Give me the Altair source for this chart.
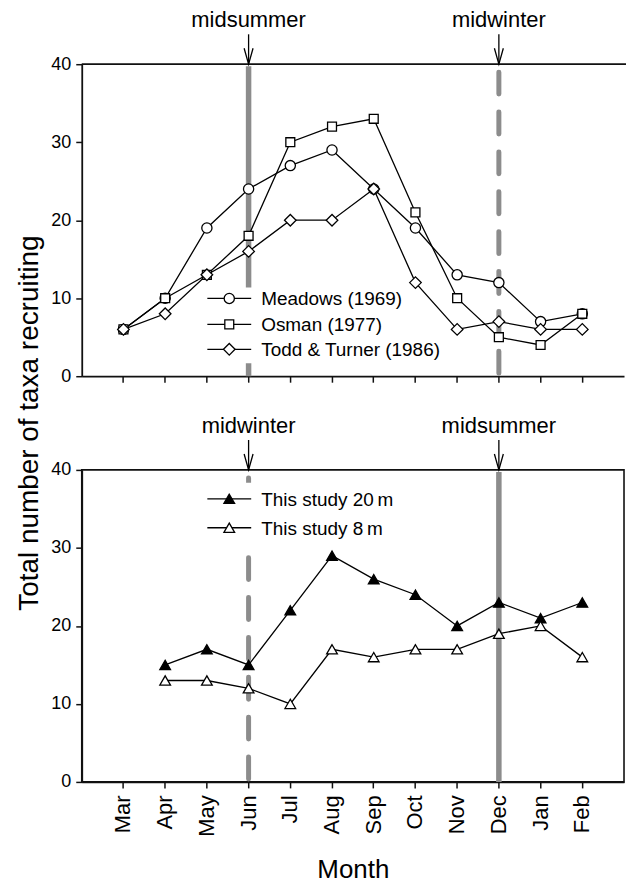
import altair as alt
import pandas as pd

# ---- data -------------------------------------------------------------
months = ["Mar", "Apr", "May", "Jun", "Jul", "Aug", "Sep", "Oct", "Nov", "Dec", "Jan", "Feb"]

# published recruitment records (northern hemisphere)
meadows_1969 = [6, 10, 19, 24, 27, 29, 24, 19, 13, 12, 7, 8]
osman_1977 = [6, 10, 13, 18, 30, 32, 33, 21, 10, 5, 4, 8]
todd_turner_1986 = [6, 8, 13, 16, 20, 20, 24, 12, 6, 7, 6, 6]

# this study (southern hemisphere), no March sample
study_20m = [None, 15, 17, 15, 22, 29, 26, 24, 20, 23, 21, 23]
study_8m = [None, 13, 13, 12, 10, 17, 16, 17, 17, 19, 20, 16]

hist_names = ["Meadows (1969)", "Osman (1977)", "Todd & Turner (1986)"]
hist_shapes = ["circle", "square", "diamond"]
hist_sizes = [105, 80, 135]

study_names = ["This study 20\u2009m", "This study 8\u2009m"]
study_fills = ["black", "white"]

# season markers per panel: (month, label, dashed)
top_seasons = [("Jun", "midsummer", False), ("Dec", "midwinter", True)]
bottom_seasons = [("Jun", "midwinter", True), ("Dec", "midsummer", False)]

y_title = "Total number of taxa recruiting"
x_title = "Month"

# ---- styling ----------------------------------------------------------
FONT = "Liberation Sans"
W, H = 544, 313
GREY = "#8c8c8c"
LW = 1.3


def long_frame(names, series):
    rows = []
    for name, vals in zip(names, series):
        for m, v in zip(months, vals):
            if v is not None:
                rows.append({"month": m, "value": v, "series": name})
    return pd.DataFrame(rows)


one = pd.DataFrame({"k": [0]})


def x_enc(show_labels):
    axis = alt.Axis(
        labels=show_labels, title=x_title if show_labels else None,
        labelAngle=-90, labelFontSize=22, labelPadding=7,
        titleFontSize=26, titleFontWeight="normal", titlePadding=20,
        tickSize=6, grid=False,
    )
    return alt.X("month:N", sort=months,
                 scale=alt.Scale(domain=months, padding=1), axis=axis)


y_enc = alt.Y("value:Q", scale=alt.Scale(domain=[0, 40], nice=False),
              axis=alt.Axis(values=[0, 10, 20, 30, 40], title=None,
                            labelFontSize=18, labelPadding=5, tickSize=6, grid=False))


def season_layers(seasons):
    layers = []
    for month, label, dashed in seasons:
        if dashed:
            rule = alt.Chart(one).mark_rule(color=GREY, strokeWidth=5, strokeDash=[22, 18],
                                            strokeCap="round", strokeDashOffset=34)
        else:
            rule = alt.Chart(one).mark_rule(color=GREY, strokeWidth=5.5, strokeCap="butt")
        layers.append(rule.encode(x=alt.datum(month), y=alt.value(2), y2=alt.value(H)))
    return layers


def annotation_layers(seasons):
    layers = []
    for month, label, dashed in seasons:
        layers.append(alt.Chart(one).mark_text(text=label, fontSize=22, baseline="alphabetic",
                                               color="black")
                      .encode(x=alt.datum(month), y=alt.value(-37)))
        layers.append(alt.Chart(one).mark_rule(color="black", strokeWidth=LW)
                      .encode(x=alt.datum(month), y=alt.value(-30), y2=alt.value(-1)))
        layers.append(alt.Chart(one).mark_point(shape="M-0.56,-1L0,1L0.56,-1", size=256,
                                                filled=False, color="black", strokeWidth=LW,
                                                opacity=1)
                      .encode(x=alt.datum(month), y=alt.value(-8)))
    return layers


def legend_layers(entries, rows_y, box):
    x0, x1, y0, y1 = box
    layers = [alt.Chart(one).mark_rect(color="white")
              .encode(x=alt.value(x0), x2=alt.value(x1), y=alt.value(y0), y2=alt.value(y1))]
    for (label, shape, size, fill), ry in zip(entries, rows_y):
        layers.append(alt.Chart(one).mark_rule(color="black", strokeWidth=LW)
                      .encode(x=alt.value(126), x2=alt.value(170), y=alt.value(ry)))
        layers.append(alt.Chart(one).mark_point(shape=shape, size=size, filled=True, fill=fill,
                                                stroke="black", strokeWidth=LW, opacity=1)
                      .encode(x=alt.value(148), y=alt.value(ry)))
        layers.append(alt.Chart(one).mark_text(text=label, fontSize=19, align="left",
                                               baseline="middle", color="black")
                      .encode(x=alt.value(180), y=alt.value(ry + 1)))
    return layers


def series_layers(df, names, shapes, sizes, fills, show_labels):
    base = alt.Chart(df)
    layers = [base.mark_line(color="black", strokeWidth=LW)
              .encode(x=x_enc(show_labels), y=y_enc, detail="series:N")]
    for name, shape, size, fill in zip(names, shapes, sizes, fills):
        layers.append(base.transform_filter(alt.datum.series == name)
                      .mark_point(shape=shape, size=size, filled=True, fill=fill,
                                  stroke="black", strokeWidth=LW, opacity=1)
                      .encode(x=x_enc(show_labels), y=y_enc))
    return layers


# ---- upper panel: published records ---------------------------------
hist_df = long_frame(hist_names, [meadows_1969, osman_1977, todd_turner_1986])
hist_entries = list(zip(hist_names, hist_shapes, hist_sizes, ["white"] * 3))

top = alt.layer(
    *season_layers(top_seasons),
    *legend_layers(hist_entries, [235, 261, 286], (123, 372, 224, 300)),
    *series_layers(hist_df, hist_names, hist_shapes, hist_sizes, ["white"] * 3, False),
    alt.Chart(one).mark_rule(color="#111", strokeWidth=1.8)
    .encode(x=alt.value(0), x2=alt.value(W + 2), y=alt.value(0)),
    *annotation_layers(top_seasons),
    alt.Chart(one).mark_text(text=y_title, angle=270, fontSize=28, align="center",
                             baseline="middle", color="black")
    .encode(x=alt.value(-52), y=alt.value(360)),
    # fixes the top-left corner of the figure
    alt.Chart(one).mark_rule(opacity=0)
    .encode(x=alt.value(-82), x2=alt.value(-82), y=alt.value(-63), y2=alt.value(-62)),
).properties(width=W, height=H, view=alt.ViewBackground(stroke=None))

# ---- lower panel: this study ------------------------------------------
study_df = long_frame(study_names, [study_20m, study_8m])
study_entries = list(zip(study_names, ["triangle-up"] * 2, [115, 115], study_fills))

bottom = alt.layer(
    *season_layers(bottom_seasons),
    *legend_layers(study_entries, [29, 58], (123, 320, 13, 80)),
    *series_layers(study_df, study_names, ["triangle-up"] * 2, [115, 115], study_fills, True),
    *annotation_layers(bottom_seasons),
).properties(width=W, height=H,
             view=alt.ViewBackground(stroke="#111", strokeWidth=1.6))

chart = (
    alt.vconcat(top, bottom, spacing=94, bounds="flush")
    .properties(padding=0)
    .configure(font=FONT, background="white")
    .configure_axis(domainColor="#111", domainWidth=1.8, tickColor="#111", tickWidth=1.5,
                    labelColor="black", titleColor="black", labelFont=FONT, titleFont=FONT)
    .configure_text(font=FONT)
)

chart.save("out.html", embed_options={"renderer": "svg", "actions": False})
